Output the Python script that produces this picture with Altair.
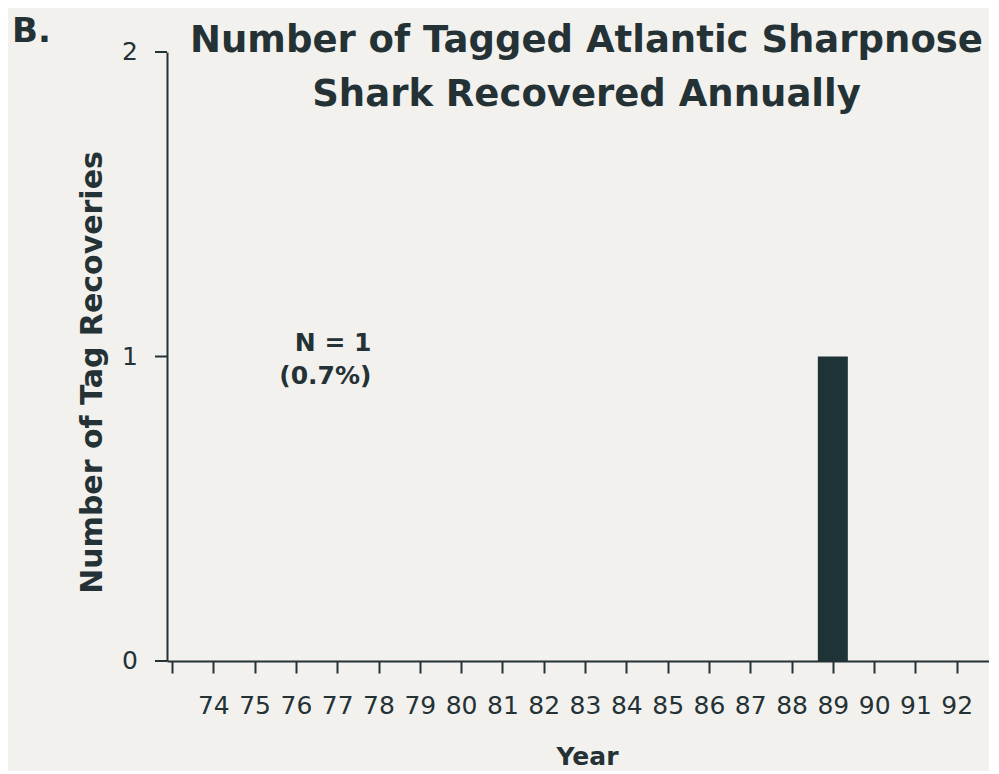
import altair as alt
import pandas as pd

years = list(range(74, 93))
recoveries = [0, 0, 0, 0, 0, 0, 0, 0, 0, 0, 0, 0, 0, 0, 0, 1, 0, 0, 0]
tick_years = list(range(73, 93))
y_ticks = [0, 1, 2]
y_tick_labels = ["0", "1", "2"]
title_lines = ["Number of Tagged Atlantic Sharpnose", "Shark Recovered Annually"]
note_lines = ["N = 1", "(0.7%)"]
note_year = [77.83]
note_value = [1]
panel_label = ["B."]

df = pd.DataFrame({"year": years, "count": recoveries})
ytick_df = pd.DataFrame({"count": y_ticks, "label": y_tick_labels})
note_df = pd.DataFrame({"year": note_year, "count": note_value, "text": [note_lines]})
label_df = pd.DataFrame({"text": panel_label})
title_df = pd.DataFrame({"text": [title_lines]})

INK = "#243236"
BAR = "#1e3336"
FONT = "DejaVu Sans"

x_scale = alt.Scale(domain=[73, 92.66], nice=False, zero=False)
y_scale = alt.Scale(domain=[0, 2], nice=False)

x_axis = alt.Axis(values=tick_years, format="d",
                  labelExpr="datum.value == 73 ? '' : datum.label",
                  title="Year", titleFontSize=25, titleFont=FONT,
                  titleFontWeight="bold", titleColor=INK, titlePadding=26, titleX=420,
                  labelFontSize=25, labelFont=FONT, labelColor=INK,
                  labelPadding=20, tickSize=12, tickWidth=2, tickColor=INK,
                  domainWidth=2, domainColor=INK, grid=False,
                  labelOverlap=False, labelFlush=False)
# y-axis line and title come from the axis; its ticks and labels are drawn
# as their own layers below (through the same y scale).
y_axis = alt.Axis(ticks=False, labels=False,
                  title="Number of Tag Recoveries", titleFontSize=30,
                  titleFont=FONT, titleFontWeight="bold", titleColor=INK,
                  titlePadding=60, titleY=320,
                  domainWidth=2, domainColor=INK, grid=False)

bars = alt.Chart(df).mark_bar(size=30, color=BAR).encode(
    x=alt.X("year:Q", scale=x_scale, axis=x_axis),
    y=alt.Y("count:Q", scale=y_scale, axis=y_axis),
)

ytick_marks = alt.Chart(ytick_df).mark_rule(color=INK, strokeWidth=2).encode(
    y=alt.Y("count:Q", scale=y_scale, axis=y_axis),
    x=alt.value(-12), x2=alt.value(0),
)

ytick_text = alt.Chart(ytick_df).mark_text(
    align="right", baseline="middle", fontSize=25, font=FONT, color=INK,
).encode(y=alt.Y("count:Q", scale=y_scale, axis=y_axis),
         x=alt.value(-29), text="label:N")

note = alt.Chart(note_df).mark_text(
    align="right", baseline="alphabetic", dy=-6, fontSize=25, font=FONT,
    fontWeight="bold", color=INK, lineHeight=33,
).encode(x=alt.X("year:Q", scale=x_scale, axis=x_axis),
         y=alt.Y("count:Q", scale=y_scale, axis=y_axis), text="text")

plabel = alt.Chart(label_df).mark_text(
    align="left", baseline="alphabetic", fontSize=34, font=FONT,
    fontWeight="bold", color=INK,
).encode(x=alt.value(-155), y=alt.value(-10), text="text:N")

title = alt.Chart(title_df).mark_text(
    align="center", baseline="alphabetic", fontSize=37, font=FONT,
    fontWeight="bold", color=INK, lineHeight=54,
).encode(x=alt.value(419.5), y=alt.value(0), text="text")

chart = alt.layer(bars, ytick_marks, ytick_text, note, plabel, title).properties(
    width=822, height=609,
    autosize=alt.AutoSizeParams(type="none"),
    padding={"left": 159, "top": 44, "right": 0, "bottom": 110},
    background="#f3f1ed",
).configure_view(stroke=None)

chart.save("out.html", embed_options={"renderer": "svg", "actions": False})
